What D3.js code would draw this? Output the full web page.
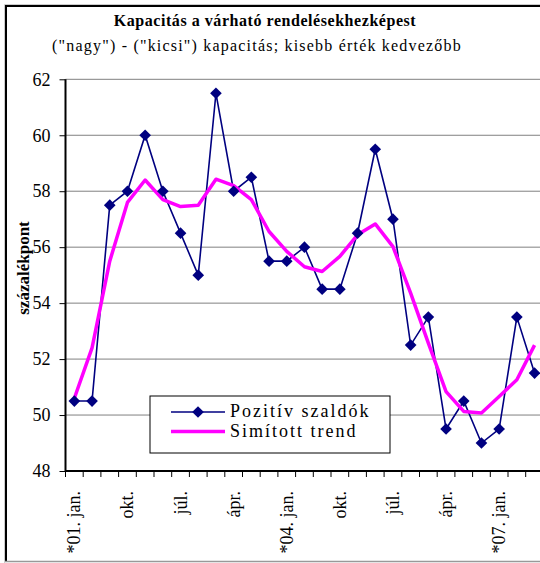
<!DOCTYPE html>
<html>
<head>
<meta charset="utf-8">
<script src="https://cdn.jsdelivr.net/npm/d3@7"></script>
<style>
  body { margin: 0; background: #fff; }
  svg text { font-family: "Liberation Serif", "Times New Roman", serif; }
</style>
</head>
<body>
<div id="viz"></div>
<script>
// quarterly categories, 2001 Q1 .. 2007 Q3
var quarters = ['01Q1','01Q2','01Q3','01Q4','02Q1','02Q2','02Q3','02Q4',
  '03Q1','03Q2','03Q3','03Q4','04Q1','04Q2','04Q3','04Q4',
  '05Q1','05Q2','05Q3','05Q4','06Q1','06Q2','06Q3','06Q4',
  '07Q1','07Q2','07Q3'];

// tick labels (every third quarter)
var tickLabels = {'01Q1':'*01. jan.', '01Q4':'okt.', '02Q3':'júl.', '03Q2':'ápr.',
  '04Q1':'*04. jan.', '04Q4':'okt.', '05Q3':'júl.', '06Q2':'ápr.', '07Q1':'*07. jan.'};

// series
var positive = [50.5, 50.5, 57.5, 58, 60, 58, 56.5, 55, 61.5, 58, 58.5, 55.5, 55.5, 56,
  54.5, 54.5, 56.5, 59.5, 57, 52.5, 53.5, 49.5, 50.5, 49, 49.5, 53.5, 51.5];
var trend = [50.6, 52.4, 55.5, 57.6, 58.4, 57.7, 57.45, 57.5, 58.43, 58.2, 57.7, 56.56, 55.85, 55.3,
  55.13, 55.67, 56.44, 56.83, 56.02, 54.36, 52.57, 50.84, 50.13, 50.07, 50.66, 51.26, 52.5];

var yTicks = [48, 50, 52, 54, 56, 58, 60, 62];

var title = 'Kapacitás a várható rendelésekhezképest';
var subtitle = '("nagy") - ("kicsi") kapacitás; kisebb érték kedvezőbb';
var yTitle = 'százalékpont';
var seriesNames = ['Pozitív szaldók', 'Simított trend'];

var svg = d3.select('#viz').append('svg')
  .attr('width', 540)
  .attr('height', 563);

// outer frame
svg.append('path')
  .attr('d', 'M4.5,563 V4.5 H540')
  .attr('style', 'fill:none; stroke:#ccc; stroke-width:1px;');
svg.append('path')
  .attr('d', 'M6,562 V6 H540')
  .attr('style', 'fill:none; stroke:#000; stroke-width:2px;');
svg.append('line')
  .attr('x1', 5).attr('x2', 540).attr('y1', 561.5).attr('y2', 561.5)
  .attr('style', 'stroke:#999; stroke-width:1.5px;');

// titles
svg.append('text')
  .attr('x', 265).attr('y', 26)
  .attr('text-anchor', 'middle')
  .attr('style', 'font-size:16px; font-weight:bold; letter-spacing:0.55px;')
  .text(title);
svg.append('text')
  .attr('x', 257).attr('y', 51)
  .attr('text-anchor', 'middle')
  .attr('style', 'font-size:16px; letter-spacing:1.2px;')
  .text(subtitle);

var left = 65.5, step = 17.7;
var x = d3.scaleBand()
  .domain(quarters)
  .range([left, left + step * quarters.length]);

var y = d3.scaleLinear()
  .domain([48, 62])
  .range([471, 79.3]);

// gridlines
svg.append('g').selectAll('line')
  .data(yTicks.slice(1)).enter()
  .append('line')
  .attr('x1', left).attr('x2', 540)
  .attr('y1', function(d) { return y(d); })
  .attr('y2', function(d) { return y(d); })
  .attr('style', 'stroke:#808080; stroke-width:1px;');

// y axis
var yAxis = svg.append('g')
  .attr('transform', 'translate(' + left + ',0)')
  .call(d3.axisLeft(y).tickValues(yTicks).tickSize(6).tickPadding(9));
yAxis.select('.domain').attr('stroke-width', 2).attr('d', 'M0,' + y(62) + 'V' + y(48));
yAxis.selectAll('.tick line').attr('stroke-width', 1);
yAxis.selectAll('text')
  .attr('style', 'font-size:18px; font-family:"Liberation Serif",serif; fill:#000;');

svg.append('text')
  .attr('transform', 'translate(29,268) rotate(-90)')
  .attr('text-anchor', 'middle')
  .attr('style', 'font-size:17px; font-weight:bold;')
  .text(yTitle);

// x axis line and ticks at band boundaries
var xAxis = svg.append('g');
xAxis.append('line')
  .attr('x1', left).attr('x2', 540)
  .attr('y1', y(48)).attr('y2', y(48))
  .attr('style', 'stroke:#000; stroke-width:2px;');
xAxis.selectAll('.xtick')
  .data(quarters).enter()
  .append('line')
  .attr('class', 'xtick')
  .attr('x1', function(d) { return x(d); })
  .attr('x2', function(d) { return x(d); })
  .attr('y1', y(48)).attr('y2', y(48) + 6)
  .attr('style', 'stroke:#000; stroke-width:1px;');
xAxis.selectAll('.xlabel')
  .data(quarters.filter(function(d) { return tickLabels[d]; })).enter()
  .append('text')
  .attr('class', 'xlabel')
  .attr('transform', function(d) {
    return 'translate(' + (x(d) + x.bandwidth() / 2) + ',491) rotate(-90)';
  })
  .attr('text-anchor', 'end')
  .attr('dy', '0.33em')
  .attr('style', 'font-size:18px;')
  .text(function(d) { return tickLabels[d]; });

function cx(i) { return x(quarters[i]) + x.bandwidth() / 2; }

var line = d3.line()
  .x(function(d, i) { return cx(i); })
  .y(function(d) { return y(d); });

// legend box sits above the gridlines, below the series
var legend = svg.append('g').attr('transform', 'translate(150,396)');
legend.append('rect')
  .attr('width', 240).attr('height', 57)
  .attr('style', 'fill:#fff; stroke:#000; stroke-width:1px;');

svg.append('path')
  .datum(positive)
  .attr('d', line)
  .attr('style', 'fill:none; stroke:#000080; stroke-width:1.6px;');

svg.append('path')
  .datum(trend)
  .attr('d', line)
  .attr('style', 'fill:none; stroke:#ff00ff; stroke-width:3.5px; stroke-linejoin:round;');

var diamond = d3.symbol().type(d3.symbolSquare).size(68);
svg.append('g').selectAll('path')
  .data(positive).enter()
  .append('path')
  .attr('d', diamond)
  .attr('transform', function(d, i) { return 'translate(' + cx(i) + ',' + y(d) + ') rotate(45)'; })
  .attr('style', 'fill:#000080;');

// legend entries
legend.append('line')
  .attr('x1', 21).attr('x2', 75).attr('y1', 16).attr('y2', 16)
  .attr('style', 'stroke:#000080; stroke-width:1.6px;');
legend.append('path')
  .attr('d', diamond)
  .attr('transform', 'translate(48,16) rotate(45)')
  .attr('style', 'fill:#000080;');
legend.append('line')
  .attr('x1', 21).attr('x2', 75).attr('y1', 35.5).attr('y2', 35.5)
  .attr('style', 'stroke:#ff00ff; stroke-width:3.5px;');
legend.selectAll('.ltext')
  .data(seriesNames).enter()
  .append('text')
  .attr('class', 'ltext')
  .attr('x', 80)
  .attr('y', function(d, i) { return 21 + i * 20; })
  .attr('style', 'font-size:18px; letter-spacing:2px;')
  .text(function(d) { return d; });
</script>
</body>
</html>
